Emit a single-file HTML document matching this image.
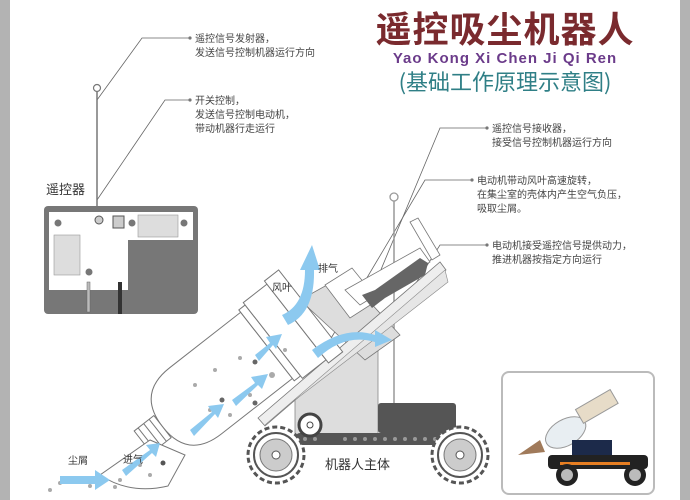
<!DOCTYPE html>
<html><head><meta charset="utf-8"><style>
html,body{margin:0;padding:0;background:#fff;}
body{width:690px;height:500px;overflow:hidden;position:relative;font-family:"Liberation Sans","Noto Sans CJK SC",sans-serif;}
svg{position:absolute;left:0;top:0;}
</style></head><body>
<svg width="690" height="500" viewBox="0 0 690 500" xmlns="http://www.w3.org/2000/svg" font-family="Liberation Sans, Noto Sans CJK SC, sans-serif">
<rect x="0" y="0" width="10" height="500" fill="#b3b3b3"/>
<rect x="680" y="0" width="10" height="500" fill="#b3b3b3"/>

<!-- title -->
<text x="505" y="42" text-anchor="middle" font-size="36" font-weight="bold" fill="#7a2a2e" font-family="Noto Sans CJK SC, sans-serif" letter-spacing="1">遥控吸尘机器人</text>
<text x="505" y="63" text-anchor="middle" font-size="15" font-weight="bold" fill="#6b3b8a" letter-spacing="1">Yao Kong Xi Chen Ji Qi Ren</text>
<text x="505" y="90" text-anchor="middle" font-size="22" fill="#2f7f86" font-family="Noto Sans CJK SC, sans-serif">(基础工作原理示意图)</text>

<!-- annotations -->
<g fill="none" stroke="#666" stroke-width="0.8">
<polyline points="97,100 142,38 190,38"/>
<polyline points="97,200 165,100 190,100"/>
<polyline points="335,380 440,128 487,128"/>
<polyline points="330,340 425,180 472,180"/>
<polyline points="320,435 440,245 487,245"/>
</g>
<g fill="#777"><circle cx="190" cy="38" r="1.6"/><circle cx="190" cy="100" r="1.6"/><circle cx="487" cy="128" r="1.6"/><circle cx="472" cy="180" r="1.6"/><circle cx="487" cy="245" r="1.6"/></g>
<g font-size="10" fill="#444">
<text x="195" y="42">遥控信号发射器，</text>
<text x="195" y="56">发送信号控制机器运行方向</text>
<text x="195" y="104">开关控制，</text>
<text x="195" y="118">发送信号控制电动机，</text>
<text x="195" y="132">带动机器行走运行</text>
<text x="492" y="132">遥控信号接收器，</text>
<text x="492" y="146">接受信号控制机器运行方向</text>
<text x="477" y="184">电动机带动风叶高速旋转，</text>
<text x="477" y="198">在集尘室的壳体内产生空气负压，</text>
<text x="477" y="212">吸取尘屑。</text>
<text x="492" y="249">电动机接受遥控信号提供动力，</text>
<text x="492" y="263">推进机器按指定方向运行</text>
</g>

<!-- remote -->
<line x1="97" y1="92" x2="97" y2="210" stroke="#777" stroke-width="1.5"/>
<circle cx="97" cy="88" r="3.5" fill="#fff" stroke="#777" stroke-width="1.2"/>
<text x="46" y="194" font-size="13" fill="#333">遥控器</text>
<rect x="44" y="206" width="154" height="108" rx="4" fill="#777"/>
<path d="M49,212 H193 V240 H128 V290 H49 Z" fill="#fff"/>
<rect x="138" y="215" width="40" height="22" fill="#ddd" stroke="#999" stroke-width="0.6"/>
<rect x="54" y="235" width="26" height="40" fill="#ddd" stroke="#999" stroke-width="0.6"/>
<g fill="#777"><circle cx="58" cy="223" r="3.5"/><circle cx="132" cy="223" r="3.5"/><circle cx="184" cy="223" r="3.5"/><circle cx="89" cy="272" r="3.5"/></g>
<circle cx="99" cy="220" r="4" fill="#ccc" stroke="#555"/>
<rect x="113" y="216" width="11" height="12" fill="#ccc" stroke="#555"/>
<rect x="87" y="282" width="3" height="30" fill="#bbb" stroke="#666" stroke-width="0.5"/>
<rect x="118" y="282" width="4" height="32" fill="#333"/>

<!-- cart body -->
<polygon points="295,395 378,330 378,435 295,435" fill="#ddd" stroke="#888" stroke-width="0.8"/>
<line x1="394" y1="200" x2="394" y2="405" stroke="#999" stroke-width="1.5"/>
<circle cx="394" cy="197" r="4" fill="#fff" stroke="#999" stroke-width="1.3"/>
<!-- motor housing -->
<polygon points="300,300 345,275 400,335 365,360" fill="#ddd" stroke="#777" stroke-width="0.8"/>
<polygon points="325,285 352,268 378,300 350,318" fill="#fff" stroke="#777" stroke-width="0.8"/>
<polygon points="345,290 420,248 430,262 360,305" fill="#fff" stroke="#777" stroke-width="0.8"/>
<polygon points="362,295 375,290 420,258 428,263 425,275 385,298 372,308" fill="#666"/>
<polygon points="410,222 418,218 440,255 432,260" fill="#fff" stroke="#777" stroke-width="0.8"/>
<!-- tray -->
<polygon points="258,418 440,262 446,270 265,426" fill="#eee" stroke="#777" stroke-width="0.8"/>
<polygon points="265,425 445,270 448,282 380,335 295,400" fill="#e6e6e6" stroke="#888" stroke-width="0.6"/>
<!-- fan cylinders -->
<g fill="#666" stroke="#444" stroke-width="0.5">
<rect x="279" y="297" width="9" height="12" transform="rotate(-38 283 303)"/>
<rect x="290" y="312" width="10" height="18" transform="rotate(-38 295 321)"/>
<rect x="303" y="330" width="10" height="20" transform="rotate(-38 308 340)"/>
</g>
<rect x="378" y="403" width="78" height="30" rx="3" fill="#555"/>
<rect x="295" y="433" width="150" height="12" rx="5" fill="#555"/>
<g fill="#999"><circle cx="305" cy="439" r="2"/><circle cx="315" cy="439" r="2"/><circle cx="345" cy="439" r="2"/><circle cx="355" cy="439" r="2"/><circle cx="365" cy="439" r="2"/><circle cx="375" cy="439" r="2"/><circle cx="385" cy="439" r="2"/><circle cx="395" cy="439" r="2"/><circle cx="405" cy="439" r="2"/><circle cx="415" cy="439" r="2"/><circle cx="425" cy="439" r="2"/><circle cx="435" cy="439" r="2"/></g>
<circle cx="310" cy="425" r="11" fill="#fff" stroke="#444" stroke-width="3"/>
<circle cx="310" cy="425" r="3" fill="none" stroke="#444"/>

<!-- bottle -->
<g transform="translate(235,370) rotate(-38)">
<path d="M-50,-42 Q-92,-42 -92,0 Q-92,42 -50,42 H40 V-42 Z" fill="#fff" stroke="#777" stroke-width="1"/>
<rect x="40" y="-45" width="8" height="90" fill="#fff" stroke="#777"/>
<rect x="48" y="-48" width="30" height="96" fill="#fff" stroke="#777"/>
<rect x="78" y="-52" width="18" height="104" fill="#fff" stroke="#777"/>
<rect x="-117" y="-14" width="25" height="28" fill="#fff" stroke="#777"/>
<line x1="-112" y1="-14" x2="-112" y2="14" stroke="#777"/><line x1="-105" y1="-14" x2="-105" y2="14" stroke="#777"/><line x1="-98" y1="-14" x2="-98" y2="14" stroke="#777"/>
</g>
<path d="M150,440 L100,475 Q130,495 168,486 L185,455 Z" fill="#fff" stroke="#777"/>
<g fill="#aaa">
<circle cx="195" cy="385" r="2"/><circle cx="215" cy="370" r="2"/><circle cx="222" cy="400" r="2.5" fill="#666"/><circle cx="240" cy="358" r="2"/><circle cx="250" cy="395" r="2"/><circle cx="272" cy="375" r="3"/><circle cx="255" cy="362" r="2.5" fill="#666"/><circle cx="210" cy="410" r="2"/><circle cx="285" cy="350" r="2"/><circle cx="230" cy="415" r="2"/><circle cx="255" cy="403" r="2.5" fill="#666"/><circle cx="140" cy="465" r="2"/><circle cx="150" cy="475" r="2"/><circle cx="163" cy="463" r="2.5" fill="#555"/><circle cx="120" cy="480" r="2"/><circle cx="60" cy="483" r="2"/><circle cx="50" cy="490" r="2"/><circle cx="78" cy="480" r="2"/><circle cx="90" cy="486" r="2"/><circle cx="115" cy="487" r="2"/></g>

<!-- blue arrows -->
<g fill="#8cc9ef">
<polygon points="60,476 95,476 95,470 110,480 95,490 95,484 60,484"/>
<polygon points="122,470 150,450 146,445 160,443 156,457 152,453 126,476"/>
<polygon points="190,430 212,412 208,406 224,404 218,418 215,414 194,436"/>
<polygon points="232,400 255,383 251,377 268,374 262,389 258,385 236,406"/>
<polygon points="255,355 270,343 266,337 282,334 276,349 273,345 259,361"/>
<path d="M282,315 Q305,305 305,270 L300,270 L312,245 L320,270 L314,270 Q315,313 288,325 Z"/>
<path d="M312,350 Q345,325 375,335 L375,330 L392,340 L375,347 L375,342 Q345,333 318,358 Z"/>
</g>
<g font-size="10" fill="#333">
<text x="272" y="291">风叶</text>
<text x="318" y="272">排气</text>
<text x="68" y="464">尘屑</text>
<text x="123" y="463">进气</text>
<text x="325" y="469" font-size="13">机器人主体</text>
</g>

<!-- wheels -->
<g>
<circle cx="276" cy="455" r="28" fill="#fff" stroke="#555" stroke-width="3" stroke-dasharray="5 3"/>
<circle cx="276" cy="455" r="22" fill="#fff" stroke="#555" stroke-width="2"/>
<circle cx="276" cy="455" r="16" fill="#ccc" stroke="#777"/>
<circle cx="276" cy="455" r="4" fill="#fff" stroke="#555"/>
<circle cx="460" cy="455" r="28" fill="#fff" stroke="#555" stroke-width="3" stroke-dasharray="5 3"/>
<circle cx="460" cy="455" r="22" fill="#fff" stroke="#555" stroke-width="2"/>
<circle cx="460" cy="455" r="16" fill="#ccc" stroke="#777"/>
<circle cx="460" cy="455" r="4" fill="#fff" stroke="#555"/>
</g>

<!-- photo -->
<rect x="502" y="372" width="152" height="122" rx="7" fill="#fff" stroke="#bbb" stroke-width="2"/>
<g transform="translate(570,430) rotate(-30)">
<ellipse cx="-5" cy="0" rx="22" ry="13" fill="#e8eef2" stroke="#999"/>
<rect x="15" y="-15" width="40" height="16" fill="#e7dcc8" stroke="#999"/>
</g>
<polygon points="518,455 540,440 545,452" fill="#a07a5a"/>
<rect x="572" y="440" width="40" height="16" fill="#1c2a4a"/>
<rect x="548" y="455" width="100" height="14" rx="4" fill="#222"/>
<rect x="560" y="462" width="70" height="3" fill="#e67e22"/>
<circle cx="567" cy="475" r="11" fill="#222"/><circle cx="567" cy="475" r="6" fill="#bbb"/>
<circle cx="635" cy="475" r="11" fill="#222"/><circle cx="635" cy="475" r="6" fill="#bbb"/>
</svg>
</body></html>
